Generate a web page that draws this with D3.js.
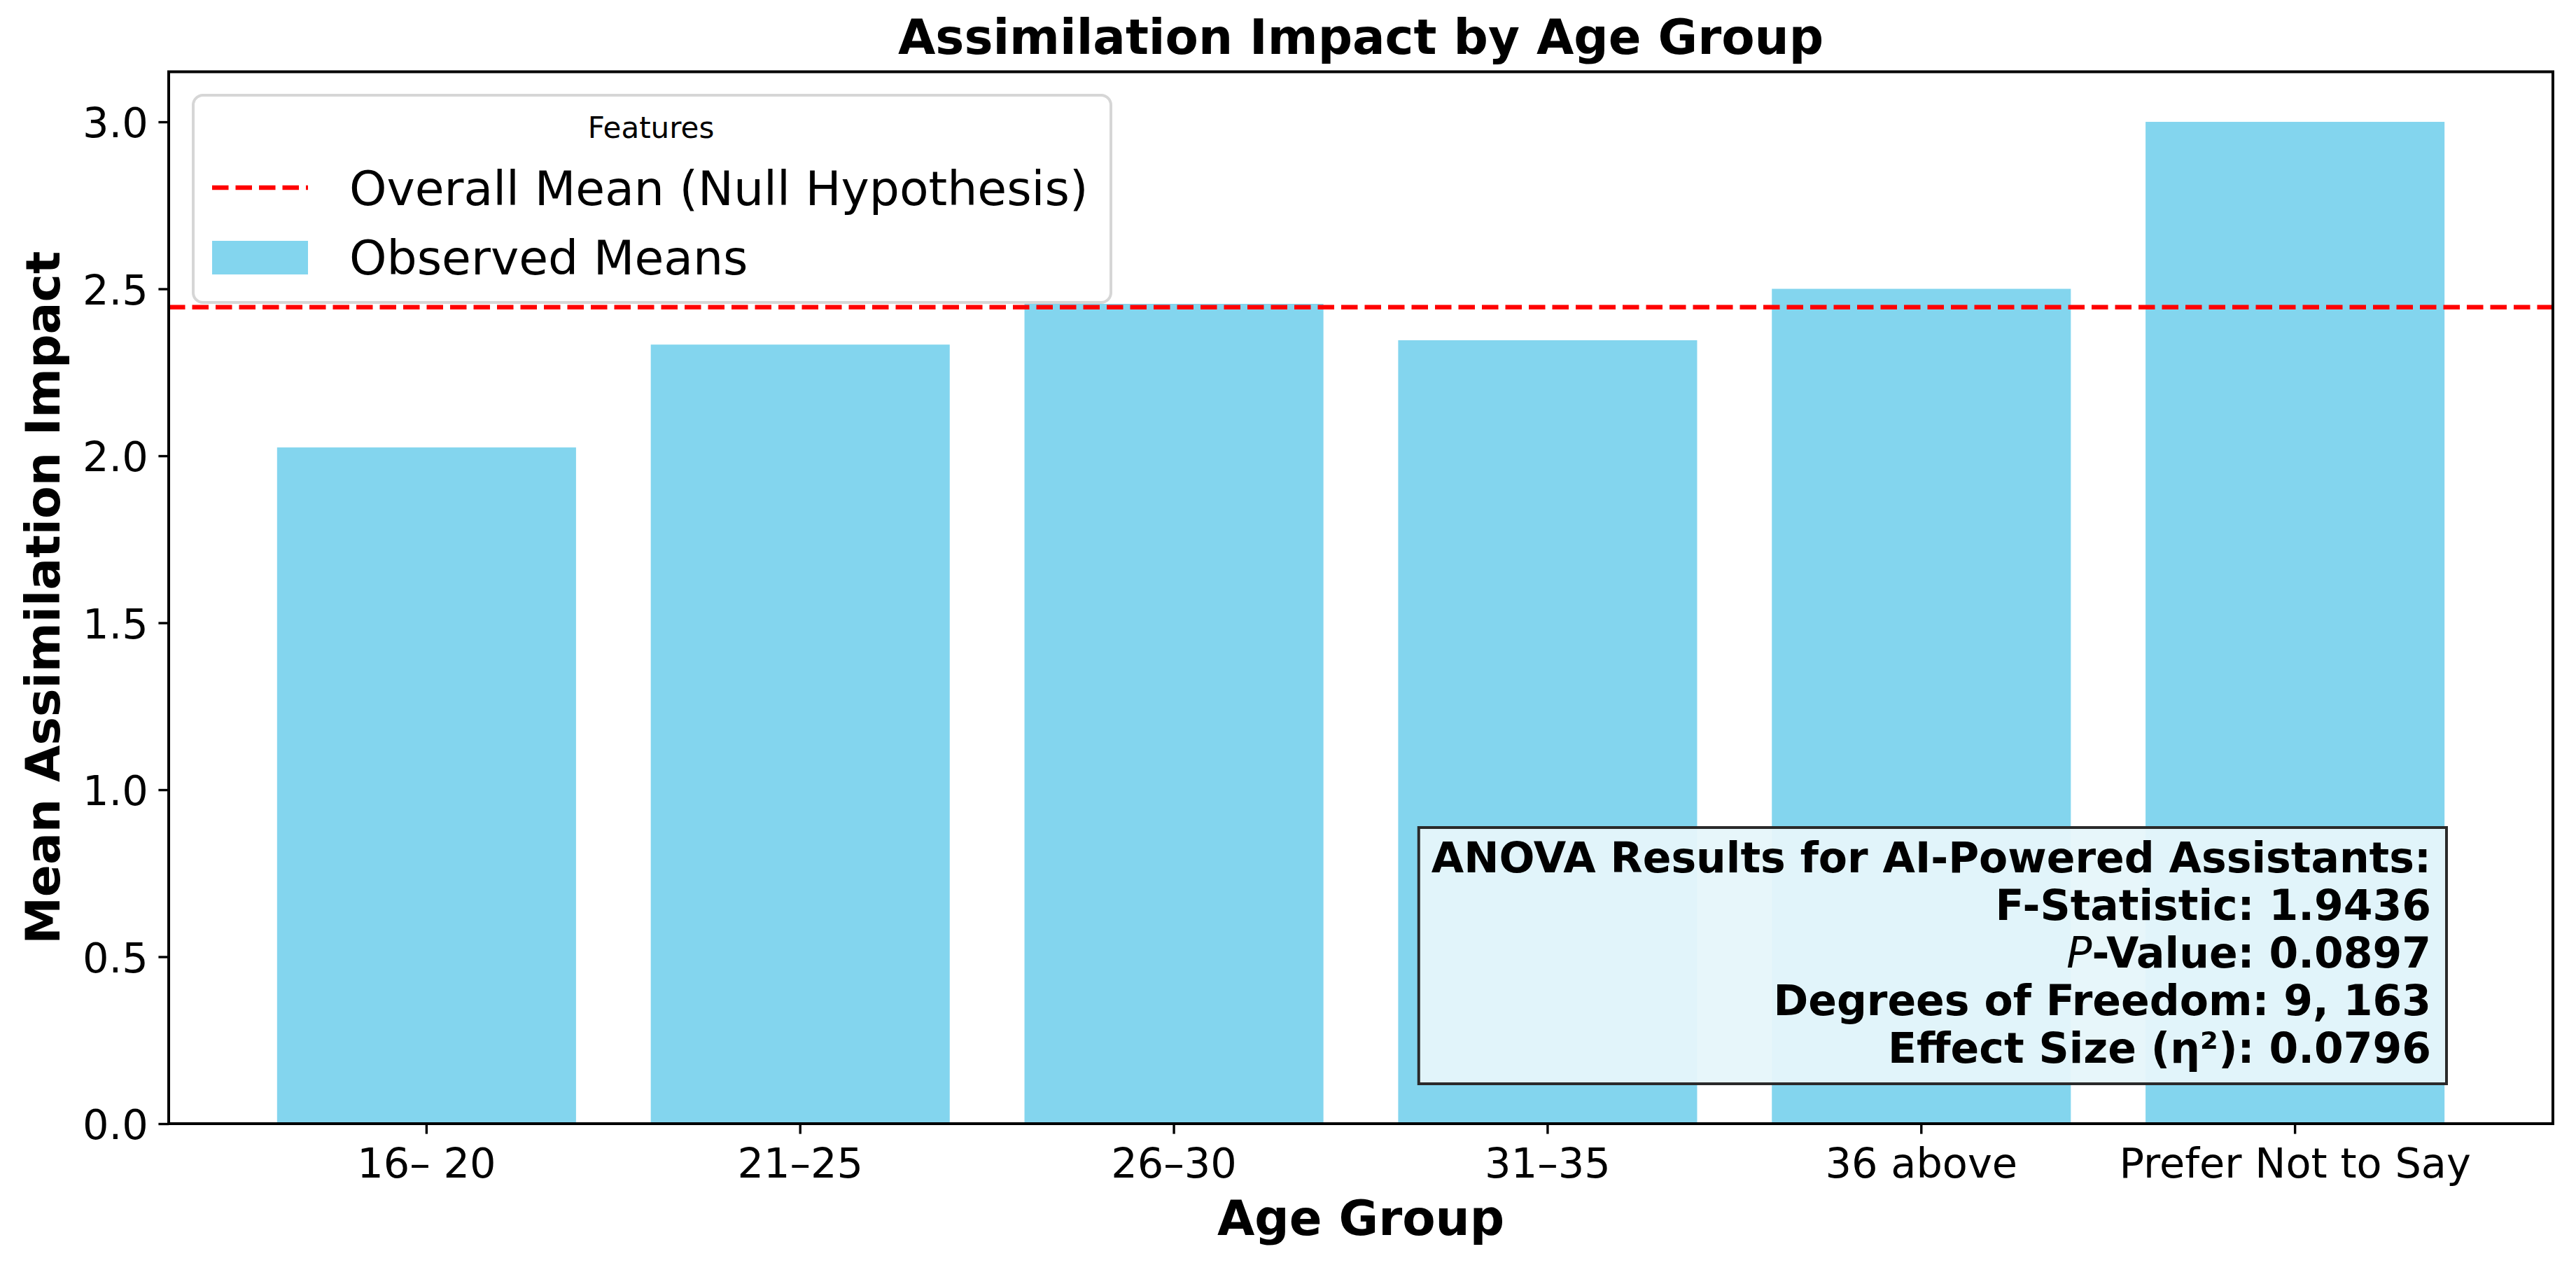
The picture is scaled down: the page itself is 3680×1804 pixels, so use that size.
<!DOCTYPE html>
<html>
<head>
<meta charset="utf-8">
<script src="https://cdn.jsdelivr.net/npm/d3@7"></script>
<style>
  body { margin:0; background:#fff; }
  text { font-family:"DejaVu Sans", sans-serif; fill:#000; }
</style>
</head>
<body>
<script>

//data
var ageGroups = ["16\u2013 20", "21\u201325", "26\u201330", "31\u201335", "36 above", "Prefer Not to Say"];
var meanImpact = [2.025, 2.333, 2.455, 2.346, 2.5, 3.0];
var overallMean = 2.445;
var yTicks = [0, 0.5, 1.0, 1.5, 2.0, 2.5, 3.0];
var legendLabels = ["Overall Mean (Null Hypothesis)", "Observed Means"];
var anovaLines = ["ANOVA Results for AI-Powered Assistants:", "F-Statistic: 1.9436", "-Value: 0.0897", "Degrees of Freedom: 9, 163", "Effect Size (\u03b7\u00b2): 0.0796"];

var width = 3680, height = 1804;
//note: "top" is taken by window.top, so plot* names
var plotLeft = 241, plotRight = 3647, plotTop = 102.5, plotBottom = 1605;
var barColor = "#83d5ee";

var svg = d3.select("body").append("svg").attr("width", width).attr("height", height);

var x = d3.scaleBand()
            .domain(ageGroups)
            .range([plotLeft, plotRight])
            .paddingInner(0.2)
            .paddingOuter(0.29);

var y = d3.scaleLinear()
            .domain([0, 3.15])//matplotlib style 5% headroom
            .range([plotBottom, plotTop]);

//bars
svg.selectAll("rect.bar")
  .data(meanImpact)
  .enter().append("rect")
            .attr("class", "bar")
            .attr("x", function(d,i){ return x(ageGroups[i]); })
            .attr("y", function(d){ return y(d); })
            .attr("width", x.bandwidth())
            .attr("height", function(d){ return y(0) - y(d); })
            .attr("fill", barColor);

//null hypothesis line
svg.append("line")
      .attr("x1", plotLeft).attr("x2", plotRight)
      .attr("y1", y(overallMean)).attr("y2", y(overallMean))
      .attr("stroke", "#ff0000")
      .attr("stroke-width", 6.5)
      .attr("stroke-dasharray", "23.5,10");

//axes
var yAxis = svg.append("g")
      .attr("transform", "translate(" + plotLeft + ",0)")
      .call(d3.axisLeft(y).tickValues(yTicks).tickFormat(d3.format(".1f")).tickSize(14.6).tickPadding(14.6).tickSizeOuter(0));

var xAxis = svg.append("g")
      .attr("transform", "translate(0," + plotBottom + ")")
      .call(d3.axisBottom(x).tickSize(14.6).tickPadding(21).tickSizeOuter(0));

[yAxis, xAxis].forEach(function(ax){
    ax.select(".domain").remove();
    ax.selectAll(".tick line").attr("stroke", "#000").attr("stroke-width", 3.4);
    ax.selectAll(".tick text").attr("font-size", 59).attr("font-family", "DejaVu Sans").attr("fill", "#000");
});
yAxis.selectAll(".tick text").attr("dy", "0.37em");

//frame
svg.append("rect")
      .attr("x", plotLeft).attr("y", plotTop)
      .attr("width", plotRight - plotLeft).attr("height", plotBottom - plotTop)
      .attr("fill", "none")
      .attr("stroke", "#000")
      .attr("stroke-width", 4);

//titles
svg.append("text")
      .attr("x", (plotLeft + plotRight) / 2).attr("y", 77)
      .attr("text-anchor", "middle")
      .attr("font-size", 69).attr("font-weight", "bold")
      .text("Assimilation Impact by Age Group");

svg.append("text")
      .attr("x", (plotLeft + plotRight) / 2).attr("y", 1764)
      .attr("text-anchor", "middle")
      .attr("font-size", 69).attr("font-weight", "bold")
      .text("Age Group");

svg.append("text")
      .attr("transform", "translate(85," + (plotTop + plotBottom) / 2 + ") rotate(-90)")
      .attr("text-anchor", "middle")
      .attr("font-size", 68).attr("font-weight", "bold")
      .text("Mean Assimilation Impact");

//legend
var legend = svg.append("g").attr("transform", "translate(276,136)");

legend.append("rect")
      .attr("width", 1311).attr("height", 296)
      .attr("rx", 14)
      .attr("fill", "#fff").attr("fill-opacity", 0.8)
      .attr("stroke", "#d6d6d6").attr("stroke-width", 4);

legend.append("text")
      .attr("x", 654).attr("y", 61)
      .attr("text-anchor", "middle")
      .attr("font-size", 42)
      .text("Features");

legend.append("line")
      .attr("x1", 27).attr("x2", 164)
      .attr("y1", 132).attr("y2", 132)
      .attr("stroke", "#ff0000").attr("stroke-width", 6.5)
      .attr("stroke-dasharray", "23.5,10");

legend.append("rect")
      .attr("x", 27).attr("y", 208)
      .attr("width", 137).attr("height", 48)
      .attr("fill", barColor);

legend.selectAll("text.entry")
  .data(legendLabels)
  .enter().append("text")
            .attr("class", "entry")
            .attr("x", 223)
            .attr("y", function(d,i){ return 157 + i*99; })
            .attr("font-size", 68)
            .text(function(d){ return d; });

//ANOVA text box
var box = svg.append("g");
var boxRect = box.append("rect");
var boxText = box.append("text")
      .attr("text-anchor", "end")
      .attr("font-size", 60)
      .attr("font-weight", "bold");

anovaLines.forEach(function(line, i){
    var t = boxText.append("tspan")
            .attr("x", 3473)
            .attr("y", 1246 + i*68);
    if (i == 2) {
        t.append("tspan").attr("font-style", "italic").attr("font-weight", "normal").text("P");
        t.append("tspan").text(line);
    } else {
        t.text(line);
    }
});

var bb = boxText.node().getBBox();
boxRect
      .attr("x", bb.x - 18).attr("y", 1182)
      .attr("width", bb.width + 40).attr("height", 1548 - 1182)
      .attr("fill", "#e6f5fa").attr("fill-opacity", 0.95)
      .attr("stroke", "#2a2a2a").attr("stroke-width", 4);

</script>
</body>
</html>
